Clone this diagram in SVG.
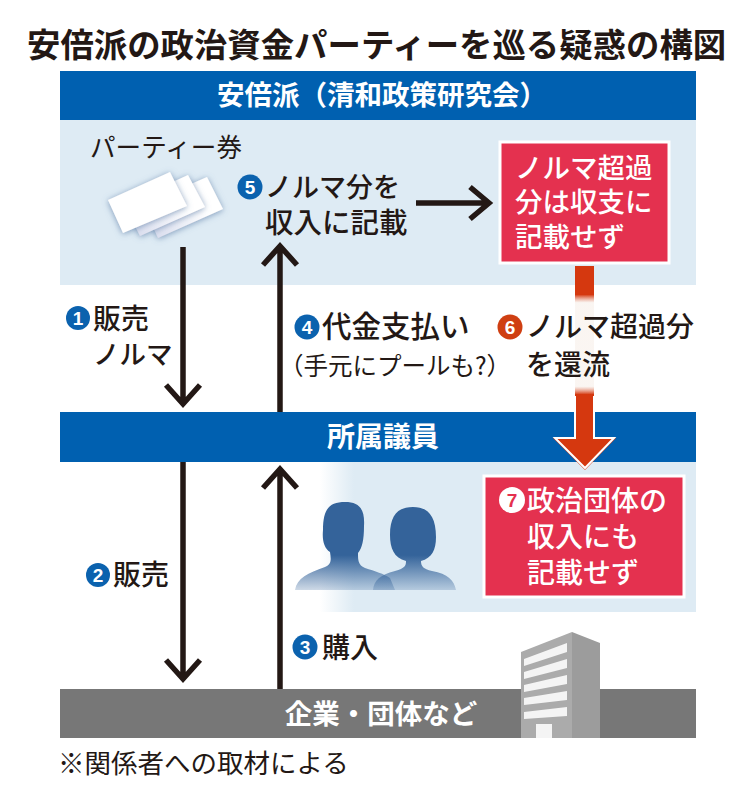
<svg xmlns="http://www.w3.org/2000/svg" width="756" height="800" viewBox="0 0 756 800">
<style>
text{font-family:"Noto Sans CJK JP","Noto Sans CJK SC",sans-serif;fill:#231815;font-size:28px;font-weight:500}
.bar{fill:#fff;font-weight:700;font-size:27.5px;text-anchor:middle}
.w{fill:#fff;font-weight:500}
.num{fill:#fff;font-size:19px;font-weight:700;text-anchor:middle;font-family:"Liberation Sans",sans-serif}
.ar{fill:none;stroke:#231815;stroke-width:5.5}
.bul{fill:#0b62ae}
.rb{fill:#e4314f;stroke:#fff;stroke-width:3}
.card{filter:url(#ds)}
</style>
<defs>
<linearGradient id="fade" x1="0" x2="1" y1="0" y2="0"><stop offset="0" stop-color="#deebf4" stop-opacity="0"/><stop offset="0.09" stop-color="#deebf4"/></linearGradient>
<linearGradient id="rv" x1="0" x2="0" y1="266" y2="470" gradientUnits="userSpaceOnUse"><stop offset="0" stop-color="#d5380f"/><stop offset="0.14" stop-color="#d5380f"/><stop offset="0.18" stop-color="#f7efe9" stop-opacity="0.6"/><stop offset="0.59" stop-color="#f7efe9" stop-opacity="0.6"/><stop offset="0.63" stop-color="#d5380f"/><stop offset="1" stop-color="#d5380f"/></linearGradient>
<linearGradient id="p1" x1="0" x2="0" y1="500" y2="592" gradientUnits="userSpaceOnUse"><stop offset="0.6" stop-color="#34639a"/><stop offset="1" stop-color="#34639a" stop-opacity="0.2"/></linearGradient>
<linearGradient id="cd" x1="0" x2="1" y1="1" y2="0"><stop offset="0" stop-color="#d5d9ec"/><stop offset="0.6" stop-color="#ffffff"/></linearGradient>
<filter id="ds" x="-30%" y="-30%" width="160%" height="160%"><feDropShadow dx="0" dy="1" stdDeviation="3" flood-color="#5d7fa8" flood-opacity="0.75"/></filter>
</defs>
<rect width="756" height="800" fill="#fff"/>
<text x="27" y="57" style="font-size:33.4px;font-weight:700">安倍派の政治資金パーティーを巡る疑惑の構図</text>

<g id="panel-top"><rect x="60" y="120" width="636" height="165" fill="#deebf4"/></g>
<g id="panel-bottom"><rect x="320" y="462" width="376" height="150" fill="url(#fade)"/></g>

<g id="member-icons">
<path d="M295 590C297 578 308 573 325 567C332 564 331 559 330 552C324 548 322 540 323 530C323 508 330 502 345 502C360 502 365 510 364 526C364 540 362 548 358 553C358 560 358 565 365 568C375 571 384 574 390 578L395 590Z" fill="url(#p1)"/>
<path d="M373 590C374 580 380 575 395 571C405 568 406 566 406 561C394 558 390 548 390 535C390 515 398 507 413 507C428 507 436 516 436 537C436 550 432 558 421 561C421 566 423 569 432 571C448 574 454 580 456 590Z" fill="url(#p1)"/>
</g>

<g id="tickets">
<polygon class="card" points="158,238 223,209 207,177 143,205" fill="url(#cd)"/>
<polygon class="card" points="140,236 205,207 188,175 124,204" fill="url(#cd)"/>
<polygon class="card" points="123,233 187,206 170,172 108,200" fill="#fff"/>
<text x="90" y="157" style="font-size:25.6px;font-weight:400">パーティー券</text>
</g>

<g id="seiwakai"><rect x="60" y="71" width="636" height="49" fill="#0060b0"/><text class="bar" x="382" y="105">安倍派（清和政策研究会）</text></g>
<g id="members"><rect x="60" y="412" width="636" height="50" fill="#0060b0"/><text class="bar" x="383" y="447" style="font-size:28px">所属議員</text></g>
<g id="companies"><rect x="60" y="689" width="636" height="49" fill="#777"/>
<polygon points="521,652 572,632 572,738 521,738" fill="#ababab"/>
<polygon points="572,632 600,643 600,738 572,738" fill="#9c9c9c"/>
<g fill="#f4f4f4"><polygon points="524,659 567,643 567,652 524,666"/><polygon points="524,672 567,659 567,668 524,679"/><polygon points="524,685 567,675 567,684 524,692"/><polygon points="524,698 567,691 567,700 524,705"/><polygon points="524,712 567,707 567,716 524,719"/><rect x="536" y="724" width="16" height="14"/></g>
<text class="bar" x="381" y="724">企業・団体など</text></g>

<g id="connectors">
<path class="ar" d="M183 247V404M166 385L183 404L200 385"/>
<path class="ar" d="M280 412V246M263 265L280 246L297 265"/>
<path class="ar" d="M183 462V679M166 660L183 679L200 660"/>
<path class="ar" d="M280 689V469M263 488L280 469L297 488"/>
<path class="ar" d="M416 203H489M470 187L489 203L470 219"/>
<path d="M575 266H594V438H616L585 470L553 438H575Z" fill="url(#rv)"/>
<path d="M594 396V438H614L585 468L555 438H575V396" fill="none" stroke="#fff" stroke-width="2"/>
</g>

<g id="label-5"><circle cx="250" cy="187" r="12.5" class="bul"/><text class="num" x="250" y="194">5</text><text x="265" y="197" style="font-size:27px">ノルマ分を</text><text x="265" y="233" style="font-size:28.5px">収入に記載</text></g>
<g id="box-unreported"><rect class="rb" x="500" y="142" width="169" height="121"/><text class="w" x="515" y="178" style="font-size:27.5px">ノルマ超過</text><text class="w" x="515" y="212" style="font-size:27.5px">分は収支に</text><text class="w" x="515" y="247" style="font-size:27.5px">記載せず</text></g>
<g id="label-1"><circle cx="78" cy="318" r="12" class="bul"/><text class="num" x="78" y="325">1</text><text x="93" y="329">販売</text><text x="93" y="364" style="font-size:26.5px">ノルマ</text></g>
<g id="label-4"><circle cx="307" cy="327" r="12.5" class="bul"/><text class="num" x="307" y="334">4</text><text x="322" y="337" style="font-size:29.5px">代金支払い</text><text x="279" y="375" style="font-size:24.5px;font-weight:400">（手元にプールも?）</text></g>
<g id="label-6"><circle cx="510" cy="327" r="12.5" fill="#cf3f12"/><text class="num" x="510" y="334">6</text><text x="526" y="337">ノルマ超過分</text><text x="526" y="375">を還流</text></g>
<g id="box-group"><rect class="rb" x="484" y="476" width="200" height="121"/><circle cx="512" cy="500" r="13" fill="#fff"/><text class="num" x="512" y="507" style="fill:#e4314f">7</text><text class="w" x="527" y="511">政治団体の</text><text class="w" x="527" y="547">収入にも</text><text class="w" x="527" y="583">記載せず</text></g>
<g id="label-2"><circle cx="98" cy="575" r="12" class="bul"/><text class="num" x="98" y="582">2</text><text x="113" y="585">販売</text></g>
<g id="label-3"><circle cx="305" cy="647" r="12.5" class="bul"/><text class="num" x="305" y="654">3</text><text x="322" y="658">購入</text></g>
<text id="note" x="58" y="773" style="font-size:26.5px;font-weight:400">※関係者への取材による</text>
</svg>
